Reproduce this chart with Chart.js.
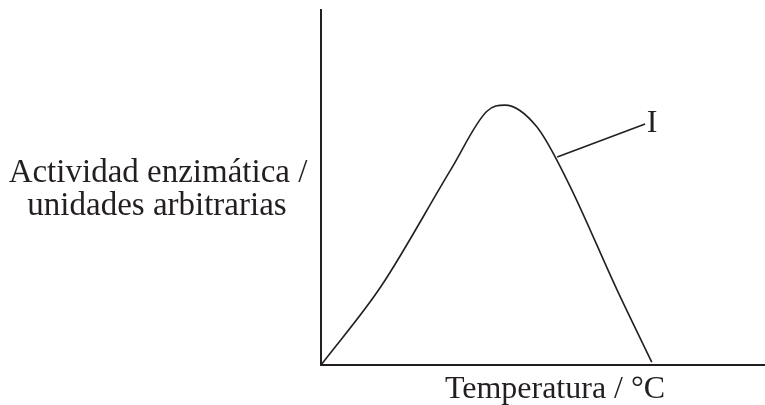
<!DOCTYPE html>
<html>
<head>
<meta charset="utf-8">
<script src="https://cdn.jsdelivr.net/npm/chart.js@4"></script>
<style>
  html, body { margin: 0; padding: 0; background: #fff; }
  #wrap { width: 765px; height: 405px; }
</style>
</head>
<body>
<div id="wrap"><canvas id="enz-chart"></canvas></div>
<script>
// curve (arbitrary units, 0-100 on both axes)
const tempVals = [0, 13.5, 29.4, 37.3, 41.4, 48.6, 55.4, 66.7, 74.5];
const actVals  = [0, 22.1, 55.4, 71.4, 73.2, 67.1, 52.1, 21.1, 0.8];
// leader line to the "I" label
const leaderX = [53.2, 73.0];
const leaderY = [58.6, 67.9];
const curveLabel = 'I';
const xTitle = 'Temperatura / °C';
const yTitleLines = ['Actividad enzimática /', 'unidades arbitrarias'];

const ink = '#231f20';
const serif = '"Liberation Serif", "DejaVu Serif", serif';

const textPlugin = {
  id: 'textPlugin',
  afterDraw(chart) {
    const cx = chart.ctx;
    const xs = chart.scales.x, ys = chart.scales.y;
    cx.save();
    cx.fillStyle = ink;
    cx.textAlign = 'center';
    cx.textBaseline = 'alphabetic';
    cx.font = '33px ' + serif;
    cx.fillText(yTitleLines[0], 158, 182);
    cx.fillText(yTitleLines[1], 157, 215);
    cx.font = '32px ' + serif;
    cx.fillText(xTitle, 555, 398);
    // curve label at the end of the leader line
    const lx = xs.getPixelForValue(leaderX[1]);
    const ly = ys.getPixelForValue(leaderY[1]);
    cx.fillText(curveLabel, lx + 7, ly + 8);
    cx.restore();
  }
};

new Chart(document.getElementById('enz-chart'), {
  type: 'line',
  data: {
    datasets: [{
      data: tempVals.map((t, i) => ({ x: t, y: actVals[i] })),
      borderColor: ink,
      borderWidth: 1.6,
      pointRadius: 0,
      cubicInterpolationMode: 'monotone',
      fill: false
    }, {
      data: leaderX.map((t, i) => ({ x: t, y: leaderY[i] })),
      borderColor: ink,
      borderWidth: 1.6,
      pointRadius: 0,
      tension: 0,
      fill: false
    }]
  },
  options: {
    responsive: true,
    maintainAspectRatio: false,
    animation: false,
    layout: { padding: { left: 321, right: 0, top: 10, bottom: 40 } },
    plugins: { legend: { display: false }, tooltip: { enabled: false } },
    scales: {
      x: {
        type: 'linear', min: 0, max: 100,
        grid: { display: false, drawTicks: false },
        ticks: { display: false },
        border: { display: true, color: ink, width: 2 }
      },
      y: {
        type: 'linear', min: 0, max: 100,
        grid: { display: false, drawTicks: false },
        ticks: { display: false },
        border: { display: true, color: ink, width: 2 }
      }
    }
  },
  plugins: [textPlugin]
});
</script>
</body>
</html>
